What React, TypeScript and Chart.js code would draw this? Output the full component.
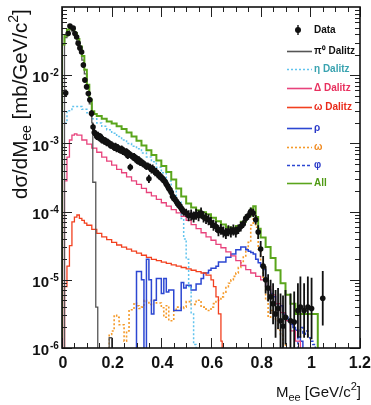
import React, { useEffect, useRef } from "react";
import { Chart, registerables } from "chart.js";

Chart.register(...registerables);

const FONT = '"Liberation Sans", Arial, Helvetica, sans-serif';
const BELOW = -8; // log10 value below the axis floor (empty bin)

// ---------- axis ticks ----------
const xTickValues = [0, 0.2, 0.4, 0.6, 0.8, 1.0, 1.2];
const xTickLabels = ["0", "0.2", "0.4", "0.6", "0.8", "1", "1.2"];
const yDecadeExponents = [-6, -5, -4, -3, -2];

// ---------- data points: [M_ee, log10(dσ/dM), error (decades)] ----------
const dataPoints: [number, number, number][] = [
  [0.015, -2.26, 0.05], [0.025, -1.39, 0.03], [0.032, -1.28, 0.03], [0.045, -1.31, 0.03], [0.052, -1.39, 0.03],
  [0.059, -1.44, 0.03], [0.065, -1.53, 0.03], [0.072, -1.6, 0.03], [0.079, -1.66, 0.03], [0.086, -1.85, 0.04],
  [0.092, -2.07, 0.04], [0.099, -2.17, 0.04], [0.106, -2.27, 0.04], [0.112, -2.36, 0.04], [0.119, -2.56, 0.05],
  [0.125, -2.76, 0.05], [0.13, -2.84, 0.05], [0.135, -2.86, 0.05], [0.14, -2.9, 0.05], [0.145, -2.88, 0.05],
  [0.15, -2.92, 0.05], [0.155, -2.9, 0.05], [0.16, -2.95, 0.05], [0.165, -2.94, 0.05], [0.17, -2.97, 0.05],
  [0.175, -2.96, 0.05], [0.18, -2.99, 0.05], [0.185, -2.98, 0.05], [0.19, -3.0, 0.05], [0.195, -3.03, 0.05],
  [0.2, -3.02, 0.05], [0.205, -3.04, 0.05], [0.21, -3.06, 0.05], [0.215, -3.04, 0.05], [0.22, -3.08, 0.05],
  [0.225, -3.06, 0.05], [0.23, -3.09, 0.05], [0.235, -3.1, 0.05], [0.24, -3.08, 0.05], [0.245, -3.12, 0.05],
  [0.25, -3.11, 0.05], [0.255, -3.14, 0.05], [0.26, -3.12, 0.05], [0.265, -3.18, 0.05], [0.27, -3.15, 0.05],
  [0.275, -3.35, 0.05], [0.28, -3.18, 0.05], [0.285, -3.2, 0.05], [0.29, -3.19, 0.05], [0.295, -3.23, 0.05],
  [0.3, -3.22, 0.05], [0.305, -3.26, 0.05], [0.31, -3.24, 0.05], [0.315, -3.28, 0.05], [0.32, -3.27, 0.05],
  [0.325, -3.3, 0.05], [0.33, -3.3, 0.05], [0.335, -3.32, 0.05], [0.34, -3.34, 0.05], [0.345, -3.33, 0.05],
  [0.35, -3.52, 0.06], [0.355, -3.36, 0.06], [0.36, -3.38, 0.06], [0.365, -3.37, 0.06], [0.37, -3.4, 0.06],
  [0.375, -3.42, 0.06], [0.38, -3.42, 0.06], [0.385, -3.45, 0.06], [0.39, -3.47, 0.06], [0.395, -3.48, 0.06],
  [0.4, -3.5, 0.06], [0.405, -3.52, 0.06], [0.41, -3.54, 0.06], [0.415, -3.56, 0.06], [0.42, -3.6, 0.06],
  [0.425, -3.62, 0.06], [0.43, -3.66, 0.06], [0.435, -3.68, 0.06], [0.44, -3.72, 0.06], [0.445, -3.78, 0.06],
  [0.45, -3.8, 0.06], [0.455, -3.82, 0.06], [0.46, -3.85, 0.06], [0.465, -3.88, 0.06], [0.47, -3.9, 0.06],
  [0.475, -3.92, 0.06], [0.48, -3.95, 0.06], [0.485, -3.98, 0.06], [0.49, -4.0, 0.06], [0.5, -4.02, 0.06],
  [0.51, -4.06, 0.08], [0.52, -4.05, 0.08], [0.53, -4.08, 0.08], [0.54, -4.04, 0.08], [0.55, -4.06, 0.08],
  [0.56, -4.02, 0.08], [0.57, -4.08, 0.08], [0.58, -4.1, 0.08], [0.59, -4.12, 0.08], [0.6, -4.16, 0.08],
  [0.61, -4.2, 0.08], [0.62, -4.22, 0.08], [0.63, -4.28, 0.08], [0.64, -4.26, 0.08], [0.65, -4.3, 0.08],
  [0.66, -4.32, 0.08], [0.67, -4.28, 0.08], [0.68, -4.3, 0.08], [0.69, -4.27, 0.08], [0.7, -4.3, 0.08],
  [0.71, -4.26, 0.07], [0.72, -4.22, 0.07], [0.73, -4.18, 0.06], [0.74, -4.1, 0.06], [0.75, -4.06, 0.06],
  [0.76, -4.0, 0.06], [0.77, -4.02, 0.06], [0.78, -4.12, 0.07], [0.79, -4.3, 0.1], [0.8, -4.55, 0.12],
  [0.81, -4.8, 0.15], [0.82, -5.0, 0.2], [0.83, -5.12, 0.2], [0.84, -5.25, 0.25], [0.85, -5.35, 0.3],
  [0.86, -5.5, 0.35], [0.87, -5.42, 0.3], [0.88, -5.6, 0.4], [0.89, -5.68, 0.45], [0.9, -5.55, 0.4],
  [0.92, -5.6, 0.4], [0.935, -5.62, 0.45], [0.95, -5.45, 0.4], [0.96, -5.4, 0.45], [0.975, -5.45, 0.4],
  [0.99, -5.4, 0.45], [1.005, -5.42, 0.45], [1.05, -5.27, 0.4],
];

// ---------- simulated components: [bin left edge M_ee, log10 value] ----------
const allBins: [number, number][] = [
  [0, BELOW], [0, -1.55], [0.01, -1.42], [0.02, -1.33], [0.03, -1.3], [0.04, -1.32], [0.05, -1.38], [0.06, -1.47],
  [0.07, -1.58], [0.08, -1.72], [0.09, -1.92], [0.1, -2.14], [0.11, -2.36], [0.12, -2.53], [0.13, -2.57], [0.14, -2.6],
  [0.16, -2.64], [0.18, -2.68], [0.2, -2.71], [0.22, -2.75], [0.24, -2.79], [0.26, -2.84], [0.28, -2.9], [0.3, -2.96],
  [0.32, -3.03], [0.34, -3.1], [0.36, -3.17], [0.38, -3.25], [0.4, -3.33], [0.42, -3.42], [0.44, -3.53], [0.46, -3.66],
  [0.48, -3.78], [0.5, -3.88], [0.52, -3.94], [0.54, -3.98], [0.56, -4.01], [0.58, -4.04], [0.6, -4.09], [0.62, -4.14],
  [0.64, -4.19], [0.66, -4.23], [0.68, -4.24], [0.7, -4.21], [0.72, -4.15], [0.74, -4.07], [0.76, -3.96], [0.77, -3.92],
  [0.78, -4.08], [0.79, -4.25], [0.8, -4.38], [0.82, -4.52], [0.84, -4.68], [0.86, -4.86], [0.88, -5.05], [0.9, -5.22],
  [0.92, -5.35], [0.94, -5.5], [0.96, -5.5], [0.98, -5.5], [1.0, -5.5], [1.02, -5.5], [1.03, BELOW],
];

const pi0Bins: [number, number][] = [
  [0, BELOW], [0.01, -1.45], [0.02, -1.36], [0.03, -1.33], [0.04, -1.36], [0.05, -1.42], [0.06, -1.52], [0.07, -1.63],
  [0.08, -1.78], [0.09, -1.98], [0.1, -2.2], [0.11, -2.42], [0.12, -2.7], [0.124, -3.57], [0.136, -5.4], [0.144, BELOW],
  [0.19, -5.85], [0.2, BELOW],
];

const etaBins: [number, number][] = [
  [0, BELOW], [0, -2.7], [0.02, -2.52], [0.04, -2.46], [0.06, -2.46], [0.08, -2.5], [0.1, -2.55], [0.12, -2.64],
  [0.14, -2.7], [0.16, -2.75], [0.18, -2.8], [0.2, -2.85], [0.22, -2.9], [0.24, -2.95], [0.26, -3.0], [0.28, -3.04],
  [0.3, -3.08], [0.32, -3.14], [0.34, -3.2], [0.36, -3.27], [0.38, -3.35], [0.4, -3.43], [0.42, -3.55], [0.44, -3.7],
  [0.46, -3.85], [0.48, -4.1], [0.49, -4.4], [0.5, -4.7], [0.51, -5.1], [0.52, -5.5], [0.53, -5.95], [0.54, BELOW],
];

const deltaBins: [number, number][] = [
  [0, BELOW], [0.01, -3.55], [0.02, -3.2], [0.03, -2.95], [0.04, -2.88], [0.05, -2.86], [0.06, -2.88], [0.08, -2.95],
  [0.1, -3.01], [0.12, -3.07], [0.14, -3.13], [0.16, -3.2], [0.18, -3.26], [0.2, -3.32], [0.22, -3.38], [0.24, -3.43],
  [0.26, -3.49], [0.28, -3.55], [0.3, -3.6], [0.32, -3.66], [0.34, -3.72], [0.36, -3.77], [0.38, -3.82], [0.4, -3.87],
  [0.42, -3.92], [0.44, -3.97], [0.46, -4.02], [0.48, -4.07], [0.5, -4.13], [0.52, -4.19], [0.54, -4.25], [0.56, -4.31],
  [0.58, -4.37], [0.6, -4.42], [0.62, -4.48], [0.64, -4.53], [0.66, -4.59], [0.68, -4.65], [0.7, -4.72], [0.72, -4.79],
  [0.74, -4.85], [0.76, -4.9], [0.78, -4.95], [0.8, -5.0], [0.82, -5.1], [0.84, -5.22], [0.86, -5.35], [0.88, -5.48],
  [0.9, -5.6], [0.92, -5.75], [0.94, -5.9], [0.96, BELOW],
];

const omegaDalitzBins: [number, number][] = [
  [0, BELOW], [0.01, -5.1], [0.02, -4.8], [0.03, -4.5], [0.04, -4.15], [0.05, -4.08], [0.06, -4.05], [0.07, -4.1],
  [0.08, -4.13], [0.09, -4.17], [0.1, -4.2], [0.12, -4.26], [0.14, -4.32], [0.16, -4.37], [0.18, -4.41], [0.2, -4.45],
  [0.22, -4.49], [0.24, -4.52], [0.26, -4.55], [0.28, -4.58], [0.3, -4.61], [0.32, -4.64], [0.34, -4.67], [0.36, -4.7],
  [0.38, -4.72], [0.4, -4.74], [0.42, -4.76], [0.44, -4.78], [0.46, -4.8], [0.48, -4.82], [0.5, -4.84], [0.52, -4.86],
  [0.54, -4.88], [0.56, -4.9], [0.58, -4.93], [0.6, -5.0], [0.61, -5.1], [0.62, -5.25], [0.63, -5.5], [0.64, -5.9],
  [0.645, BELOW],
];

const rhoBins: [number, number][] = [
  [0.3, BELOW], [0.3, -4.88], [0.31, -4.88], [0.32, -5.0], [0.33, -6.1], [0.34, -4.7], [0.35, -5.0], [0.36, -5.5],
  [0.37, -5.3], [0.38, -4.98], [0.39, -4.98], [0.4, -5.2], [0.41, -4.98], [0.42, -5.18], [0.43, -5.15], [0.44, -5.15],
  [0.45, -5.45], [0.46, -5.45], [0.47, -5.45], [0.48, -5.04], [0.49, -5.12], [0.5, -5.08], [0.51, -5.08], [0.52, -5.15],
  [0.53, -5.15], [0.54, -5.06], [0.55, -5.06], [0.56, -4.98], [0.57, -4.9], [0.58, -4.9], [0.59, -4.86], [0.6, -4.83],
  [0.61, -4.83], [0.62, -4.8], [0.63, -4.74], [0.64, -4.74], [0.65, -4.74], [0.66, -4.67], [0.67, -4.67], [0.68, -4.62],
  [0.69, -4.62], [0.7, -4.56], [0.71, -4.56], [0.72, -4.52], [0.73, -4.52], [0.74, -4.56], [0.75, -4.58], [0.76, -4.6],
  [0.77, -4.62], [0.78, -4.7], [0.79, -4.75], [0.8, -4.8], [0.81, -4.85], [0.82, -5.1], [0.83, -5.15], [0.84, -5.2],
  [0.85, -5.25], [0.86, -5.35], [0.87, -5.4], [0.88, -5.38], [0.89, -5.5], [0.9, -5.55], [0.91, -5.6], [0.92, -5.65],
  [0.93, -5.7], [0.94, -5.74], [0.95, -5.84], [0.96, -5.9], [0.97, BELOW],
];

const omegaBins: [number, number][] = [
  [0.19, BELOW], [0.19, -5.8], [0.2, -5.75], [0.21, -5.52], [0.22, -5.55], [0.23, -5.66], [0.24, -5.66], [0.25, -5.9],
  [0.26, -5.75], [0.27, -5.44], [0.28, -5.44], [0.29, -5.34], [0.3, -5.38], [0.31, -5.42], [0.32, -5.4], [0.33, -5.3],
  [0.34, -5.32], [0.35, -5.36], [0.36, -5.3], [0.37, -5.3], [0.38, -5.34], [0.39, -5.34], [0.4, -5.41], [0.41, -5.55],
  [0.42, -5.38], [0.43, -5.6], [0.44, -5.6], [0.45, -5.45], [0.46, -5.4], [0.47, -5.4], [0.48, -5.42], [0.49, -5.4],
  [0.5, -5.32], [0.51, -5.32], [0.52, -5.36], [0.53, -5.36], [0.54, -5.3], [0.55, -5.3], [0.56, -5.4], [0.57, -5.4],
  [0.58, -5.45], [0.59, -5.45], [0.6, -5.4], [0.61, -5.35], [0.62, -5.32], [0.63, -5.3], [0.64, -5.25], [0.65, -5.18],
  [0.66, -5.1], [0.67, -5.05], [0.68, -5.0], [0.69, -4.95], [0.7, -4.9], [0.71, -4.82], [0.72, -4.75], [0.73, -4.65],
  [0.74, -4.55], [0.75, -4.45], [0.76, -4.2], [0.77, -4.05], [0.78, -4.23], [0.79, -4.55], [0.8, -4.8], [0.81, -5.0],
  [0.82, -5.3], [0.83, -5.55], [0.84, -5.45], [0.85, -5.5], [0.86, -5.6], [0.87, -5.74], [0.88, -5.8], [0.89, -5.95],
  [0.9, BELOW],
];

const phiBins: [number, number][] = [
  [0.95, BELOW], [0.95, -5.75], [0.96, -5.7], [0.97, -5.8], [0.98, -5.75], [0.99, -5.85], [1.0, -5.9], [1.01, -5.95],
  [1.02, BELOW],
];

// ---------- legend ----------
const legendLabels = ["Data", "π⁰ Dalitz", "η Dalitz", "Δ Dalitz", "ω Dalitz", "ρ", "ω", "φ", "All"];

// styles (kept separate from the data)
const STYLE = {
  data: { color: "#111111" },
  all: { color: "#5aa51c", width: 2, dash: [] as number[] },
  pi0: { color: "#555555", width: 1.3, dash: [] as number[] },
  eta: { color: "#62c4ee", width: 1.5, dash: [2, 2] },
  delta: { color: "#e8437c", width: 1.3, dash: [] as number[] },
  omegaD: { color: "#f2401f", width: 1.3, dash: [] as number[] },
  rho: { color: "#2c47d2", width: 1.5, dash: [] as number[] },
  omega: { color: "#f59a2a", width: 1.6, dash: [2, 2] },
  phi: { color: "#2c47d2", width: 1.5, dash: [3, 2] },
};
const legendStyle = [
  { key: "data", text: "#111111" },
  { key: "pi0", text: "#111111" },
  { key: "eta", text: "#3aa3b0" },
  { key: "delta", text: "#e8305e" },
  { key: "omegaD", text: "#ea2a1a" },
  { key: "rho", text: "#2838c8" },
  { key: "omega", text: "#f08a20" },
  { key: "phi", text: "#2838c8" },
  { key: "all", text: "#4f9a14" },
];
const legendRowY = [30, 51, 69, 88, 107, 128, 147, 165, 183];

const toPts = (bins: [number, number][]) => bins.map(([m, l]) => ({ x: m, y: Math.pow(10, l) }));

type Part = { t: string; s: number; dy: number; w?: string };
function drawParts(ctx: CanvasRenderingContext2D, parts: Part[], x: number, y: number, align: "left" | "right") {
  let total = 0;
  for (const p of parts) {
    ctx.font = `${p.w || "normal"} ${p.s}px ${FONT}`;
    total += ctx.measureText(p.t).width;
  }
  let cx = align === "right" ? x - total : x;
  ctx.textAlign = "left";
  ctx.textBaseline = "alphabetic";
  for (const p of parts) {
    ctx.font = `${p.w || "normal"} ${p.s}px ${FONT}`;
    ctx.fillText(p.t, cx, y + p.dy);
    cx += ctx.measureText(p.t).width;
  }
}

const decorPlugin = {
  id: "decor",
  afterDatasetsDraw(chart: any) {
    const { ctx, chartArea: ca } = chart;
    const xs = chart.scales.x;
    const ys = chart.scales.y;
    ctx.save();
    ctx.beginPath();
    ctx.rect(ca.left, ca.top, ca.right - ca.left, ca.bottom - ca.top);
    ctx.clip();
    ctx.strokeStyle = STYLE.data.color;
    ctx.lineWidth = 1.8;
    ctx.beginPath();
    for (const [m, l, e] of dataPoints) {
      const px = xs.getPixelForValue(m);
      ctx.moveTo(px, ys.getPixelForValue(Math.pow(10, l + e)));
      ctx.lineTo(px, ys.getPixelForValue(Math.pow(10, l - e)));
    }
    ctx.stroke();
    ctx.restore();
  },
  afterDraw(chart: any) {
    const { ctx, chartArea: ca } = chart;
    const xs = chart.scales.x;
    const ys = chart.scales.y;
    ctx.save();
    // ticks
    ctx.strokeStyle = "#222";
    ctx.lineWidth = 1;
    ctx.beginPath();
    for (let k = 0; k <= 24; k++) {
      const v = k * 0.05;
      const px = Math.round(xs.getPixelForValue(v)) + 0.5;
      const len = k % 4 === 0 ? 10 : 5;
      ctx.moveTo(px, ca.bottom);
      ctx.lineTo(px, ca.bottom - len);
      ctx.moveTo(px, ca.top);
      ctx.lineTo(px, ca.top + len);
    }
    for (let e = -6; e <= -2; e++) {
      for (let d = 1; d <= 9; d++) {
        const v = d * Math.pow(10, e);
        const py = Math.round(ys.getPixelForValue(v)) + 0.5;
        const len = d === 1 ? 10 : 5;
        ctx.moveTo(ca.left, py);
        ctx.lineTo(ca.left + len, py);
        ctx.moveTo(ca.right, py);
        ctx.lineTo(ca.right - len, py);
      }
    }
    ctx.stroke();
    // frame
    ctx.lineWidth = 1.6;
    ctx.strokeStyle = "#111";
    ctx.strokeRect(ca.left, ca.top, ca.right - ca.left, ca.bottom - ca.top);

    // x tick labels
    ctx.fillStyle = "#111";
    ctx.font = `bold 16px ${FONT}`;
    ctx.textBaseline = "top";
    xTickValues.forEach((v, i) => {
      const px = xs.getPixelForValue(v);
      if (i === xTickValues.length - 1) {
        ctx.textAlign = "right";
        ctx.fillText(xTickLabels[i], 371, ca.bottom + 8);
      } else {
        ctx.textAlign = "center";
        ctx.fillText(xTickLabels[i], px + 1, ca.bottom + 8);
      }
    });
    // y tick labels 10^-n
    for (const e of yDecadeExponents) {
      const py = ys.getPixelForValue(Math.pow(10, e));
      ctx.font = `bold 15px ${FONT}`;
      ctx.textAlign = "right";
      ctx.textBaseline = "middle";
      ctx.fillText("10", 49, py + 3);
      ctx.font = `bold 10px ${FONT}`;
      ctx.textAlign = "left";
      ctx.textBaseline = "alphabetic";
      ctx.fillText("-" + Math.abs(e), 50, py + 1);
    }

    // x title
    ctx.fillStyle = "#111";
    drawParts(
      ctx,
      [
        { t: "M", s: 15, dy: 0 },
        { t: "ee", s: 11, dy: 4 },
        { t: " [GeV/c", s: 15, dy: 0 },
        { t: "2", s: 11, dy: -7 },
        { t: "]", s: 15, dy: 0 },
      ],
      361,
      397,
      "right"
    );
    // y title
    ctx.save();
    ctx.translate(27, 199);
    ctx.rotate(-Math.PI / 2);
    drawParts(
      ctx,
      [
        { t: "dσ/dM", s: 20.5, dy: 0 },
        { t: "ee", s: 14, dy: 4 },
        { t: " [mb/GeV/c", s: 20.5, dy: 0 },
        { t: "2", s: 14, dy: -9 },
        { t: "]", s: 20.5, dy: 0 },
      ],
      0,
      0,
      "left"
    );
    ctx.restore();

    // legend
    legendLabels.forEach((label, i) => {
      const st = legendStyle[i];
      const y = legendRowY[i];
      if (st.key === "data") {
        ctx.fillStyle = STYLE.data.color;
        ctx.beginPath();
        ctx.arc(298, y, 3, 0, Math.PI * 2);
        ctx.fill();
        ctx.fillRect(297.3, y - 5, 1.4, 10);
      } else {
        const s = (STYLE as any)[st.key];
        ctx.strokeStyle = s.color;
        ctx.lineWidth = 1.6;
        ctx.setLineDash(s.dash);
        ctx.beginPath();
        ctx.moveTo(287, y + 0.5);
        ctx.lineTo(312, y + 0.5);
        ctx.stroke();
        ctx.setLineDash([]);
      }
      ctx.fillStyle = st.text;
      ctx.font = `bold 10px ${FONT}`;
      ctx.textAlign = "left";
      ctx.textBaseline = "middle";
      ctx.fillText(label, 314, y);
    });
    ctx.restore();
  },
};

function lineDs(bins: [number, number][], s: { color: string; width: number; dash: number[] }) {
  return {
    data: toPts(bins),
    borderColor: s.color,
    borderWidth: s.width,
    borderDash: s.dash,
    stepped: true,
    pointRadius: 0,
    fill: false,
  };
}

export default function App() {
  const ref = useRef<HTMLCanvasElement | null>(null);
  useEffect(() => {
    if (!ref.current) return;
    const chart = new Chart(ref.current, {
      type: "line",
      data: {
        datasets: [
          {
            data: dataPoints.map(([m, l]) => ({ x: m, y: Math.pow(10, l) })),
            showLine: false,
            pointRadius: 2.8,
            pointBackgroundColor: STYLE.data.color,
            pointBorderColor: STYLE.data.color,
            pointBorderWidth: 0,
            borderColor: STYLE.data.color,
          } as any,
          lineDs(allBins, STYLE.all),
          lineDs(pi0Bins, STYLE.pi0),
          lineDs(etaBins, STYLE.eta),
          lineDs(deltaBins, STYLE.delta),
          lineDs(omegaDalitzBins, STYLE.omegaD),
          lineDs(rhoBins, STYLE.rho),
          lineDs(omegaBins, STYLE.omega),
          lineDs(phiBins, STYLE.phi),
        ] as any,
      },
      options: {
        responsive: false,
        animation: false,
        devicePixelRatio: 1,
        layout: { padding: { left: 62, top: 7, right: 11, bottom: 57 } },
        scales: {
          x: { type: "linear", min: 0, max: 1.2, display: false },
          y: { type: "logarithmic", min: 1e-6, max: 1e-1, display: false },
        },
        plugins: { legend: { display: false }, tooltip: { enabled: false } },
        events: [],
      } as any,
      plugins: [decorPlugin],
    });
    return () => chart.destroy();
  }, []);
  return (
    <div style={{ position: "fixed", left: 0, top: 0, width: 371, height: 405, background: "#fff" }}>
      <canvas ref={ref} width={371} height={405} style={{ display: "block", width: 371, height: 405 }} />
    </div>
  );
}
